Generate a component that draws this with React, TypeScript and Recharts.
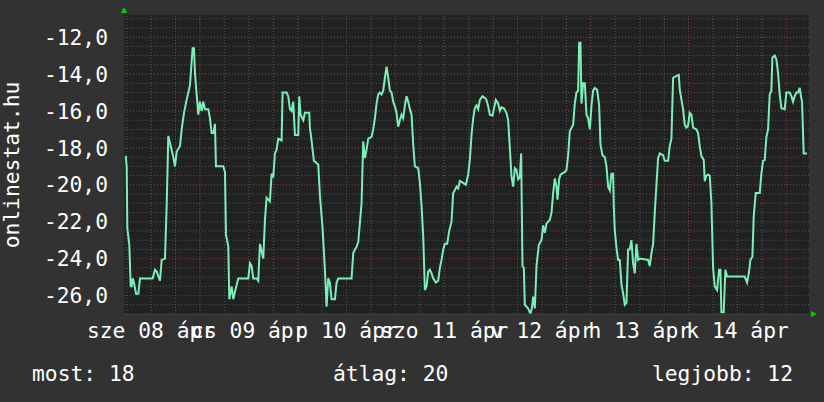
import { LineChart, Line, XAxis, YAxis, ReferenceLine, CartesianGrid } from "recharts";

// hours since Apr 8 00:00
const hours = [
  5.76, 6.01, 6.17, 6.66, 6.99, 7.23, 7.48, 7.8, 8.3, 8.87, 9.28, 12.39, 12.96, 13.37, 14.19, 14.6,
  15.41, 15.82, 16.23, 16.81, 17.46, 17.87, 18.28, 19.1, 19.51, 20.08, 20.73, 21.55, 22.2, 22.53,
  22.78, 23.19, 23.59, 24.0, 24.41, 24.82, 25.23, 26.05, 26.46, 26.87, 27.28, 27.69, 27.93, 29.73,
  30.14, 30.39, 30.96, 31.2, 31.78, 32.18, 32.59, 33.41, 35.87, 36.28, 36.69, 37.09, 37.91, 38.32,
  38.73, 39.14, 39.55, 39.96, 40.37, 41.18, 41.59, 42.0, 42.41, 42.82, 43.23, 44.05, 44.29, 45.28,
  45.68, 46.09, 46.5, 46.91, 47.32, 48.14, 48.38, 48.71, 49.37, 49.78, 50.84, 51.0, 51.41, 51.98,
  53.05, 53.46, 54.11, 54.68, 55.09, 55.5, 55.91, 56.32, 57.14, 57.55, 57.96, 61.23, 61.64, 62.46,
  62.87, 63.68, 64.09, 64.5, 64.91, 65.32, 66.14, 66.55, 66.96, 67.37, 67.77, 68.18, 68.59, 69.0,
  69.41, 69.82, 70.23, 70.64, 71.05, 71.46, 71.87, 72.27, 72.68, 73.09, 73.5, 73.91, 74.32, 74.73,
  75.14, 75.55, 75.96, 76.36, 76.77, 77.59, 78.0, 78.41, 78.82, 79.23, 79.64, 80.05, 80.46, 80.87,
  81.27, 81.93, 82.5, 82.91, 83.32, 83.73, 84.14, 84.71, 85.2, 85.77, 86.18, 86.59, 87.0, 87.41,
  87.82, 88.64, 89.29, 89.86, 90.27, 90.68, 91.09, 91.5, 91.91, 92.32, 92.73, 93.38, 93.95, 94.36,
  94.77, 95.18, 95.84, 96.16, 96.66, 97.23, 97.64, 98.05, 98.62, 99.27, 99.68, 100.09, 100.5, 100.91,
  101.32, 101.73, 102.14, 102.55, 102.87, 103.2, 103.53, 103.77, 104.59, 105.16, 105.49, 105.82,
  106.23, 106.64, 107.21, 107.86, 108.27, 108.68, 109.09, 109.5, 109.91, 110.32, 110.73, 111.14,
  111.55, 111.79, 112.2, 112.53, 113.59, 114.0, 114.41, 114.82, 115.64, 116.04, 116.45, 116.86,
  117.11, 117.44, 117.68, 118.09, 118.5, 118.91, 119.32, 119.73, 120.14, 120.54, 120.95, 121.53,
  122.02, 122.34, 122.84, 123.41, 123.82, 124.23, 124.63, 125.04, 125.45, 125.62, 125.86, 126.27,
  126.68, 127.09, 127.5, 127.91, 128.32, 128.73, 129.13, 129.54, 129.95, 130.36, 130.77, 131.18,
  131.59, 132.0, 134.04, 134.45, 134.86, 135.27, 135.68, 136.09, 136.5, 136.91, 137.73, 138.13,
  138.95, 139.36, 139.77, 140.18, 141.0, 141.57, 141.82, 142.23, 142.63, 143.04, 143.45, 143.86,
  144.27, 144.68, 145.09, 145.91, 146.32, 146.72, 147.13, 147.7, 147.95, 148.36, 148.77, 149.18,
  149.59, 150.0, 150.41, 150.98, 151.47, 151.8, 152.04, 152.61, 153.02, 153.43, 157.77, 158.34,
  158.84, 159.16, 159.65, 159.98, 160.47, 161.45, 161.86, 162.27, 162.68, 163.09, 163.5, 163.9,
  164.31, 164.56, 165.13, 165.54, 165.95, 166.36, 166.77, 167.59, 168.0, 168.82, 169.22, 169.63,
  170.04, 170.45, 170.86, 171.27, 171.51, 171.84, 172.25, 173.07
];

const temps = [
  -18.43, -19.0, -22.35, -23.26, -25.5, -25.5, -25.07, -25.3, -25.9, -25.9, -25.07, -25.07, -24.6, -24.7, -25.2, -24.07,
  -24.0, -21.2, -17.35, -17.9, -18.5, -19.0, -18.2, -17.9, -17.0, -16.1, -15.4, -14.6, -12.6, -12.6,
  -13.95, -15.1, -16.2, -15.5, -16.0, -15.5, -15.9, -15.9, -16.4, -17.2, -17.2, -16.7, -19.0, -19.0,
  -19.3, -22.7, -23.35, -26.2, -25.5, -26.2, -25.8, -25.07, -25.07, -24.25, -24.4, -25.07, -25.07, -25.2,
  -23.2, -23.6, -24.0, -21.9, -20.7, -20.9, -19.4, -19.6, -18.3, -18.1, -17.5, -17.6, -15.0, -15.0,
  -15.2, -15.9, -16.0, -15.5, -17.3, -17.3, -15.2, -16.2, -16.5, -16.1, -16.1, -16.9, -17.6, -18.7,
  -18.9, -20.6, -22.35, -24.6, -26.6, -25.07, -25.3, -26.2, -26.2, -25.3, -25.07, -25.07, -23.7, -23.35,
  -23.1, -21.0, -17.65, -18.55, -18.1, -17.5, -17.4, -17.0, -16.4, -15.6, -15.1, -15.0, -15.1, -14.9,
  -14.2, -13.6, -14.2, -14.9, -15.0, -15.5, -15.75, -16.1, -16.85, -16.5, -16.2, -16.4, -15.7, -15.2,
  -15.5, -15.9, -16.2, -17.8, -19.0, -19.1, -19.9, -21.1, -22.8, -25.7, -25.5, -24.7, -24.6, -24.8,
  -25.07, -25.3, -25.2, -24.5, -24.07, -23.5, -23.2, -23.2, -22.5, -22.0, -20.45, -20.3, -20.1, -20.2,
  -19.8, -19.9, -20.0, -19.45, -18.65, -17.3, -16.4, -15.85, -15.7, -15.9, -15.4, -15.2, -15.3, -15.4,
  -15.75, -16.2, -16.25, -15.9, -15.4, -15.6, -16.0, -15.8, -15.85, -16.1, -16.5, -18.0, -19.55, -20.1,
  -19.1, -19.2, -19.7, -19.6, -18.3, -24.4, -24.5, -26.5, -26.7, -27.0, -26.7, -26.06,
  -26.7, -24.4, -23.25, -23.0, -22.2, -22.6, -22.1, -22.0, -21.9, -21.5, -20.45, -19.65,
  -20.1, -20.8, -19.7, -19.45, -19.3, -19.2, -18.4, -17.1, -16.75, -15.6, -15.0, -14.9,
  -12.3, -12.3, -15.6, -14.5, -14.5, -16.2, -16.4, -17.0, -15.7, -14.9, -14.75, -14.85,
  -15.7, -17.8, -18.4, -18.5, -19.0, -20.1, -20.3, -19.4, -19.4, -21.2, -22.45, -23.4,
  -24.07, -24.07, -25.4, -25.9, -26.5, -26.4, -23.5, -23.5, -23.0, -24.25, -24.8, -23.2,
  -24.07, -24.0, -24.07, -24.4, -23.7, -23.2, -21.5, -20.0, -18.55, -18.3, -18.4, -18.7,
  -18.7, -17.9, -17.5, -14.2, -14.1, -14.05, -14.85, -15.4, -15.9, -16.75, -16.9, -16.8,
  -16.1, -16.2, -16.9, -17.0, -17.2, -17.9, -18.45, -18.65, -19.8, -19.5, -19.45, -19.5,
  -21.0, -24.5, -25.5, -25.7, -24.6, -24.6, -26.9, -26.9, -24.6, -24.97, -24.97, -25.3,
  -24.7, -24.07, -23.9, -21.7, -20.45, -20.45, -19.4, -18.7, -18.65, -17.4, -17.0, -15.1,
  -14.9, -13.1, -13.0, -13.2, -13.95, -15.1, -15.85, -15.9, -15.0, -15.0, -15.2, -15.5,
  -15.2, -15.0, -15.0, -14.75, -15.1, -15.5, -18.3, -18.3
];

const dayTicks = [12, 36, 60, 84, 108, 132, 156];
const dayLabels = ["sze 08 ápr", "cs 09 ápr", "p 10 ápr", "szo 11 ápr", "v 12 ápr", "h 13 ápr", "k 14 ápr"];
const midnights = [24, 48, 72, 96, 120, 144, 168];
const yTicks = [-26, -24, -22, -20, -18, -16, -14, -12];
const legend = ["most: 18", "átlag: 20", "legjobb: 12"];

const FONT = '"DejaVu Sans Mono", monospace';
const FS = 21.3;

const data = hours.map((h, i) => ({ h, t: temps[i] }));

const minorX: number[] = [];
for (let h = 6; h <= 168; h += 6) minorX.push(h);
const minorY: number[] = [];
for (let v = -26.5; v <= -11; v += 0.5) minorY.push(v);

const XTick = ({ x, y, payload }: any) => (
  <text x={x} y={y} dy={24} textAnchor="middle" fill="#ffffff" fontFamily={FONT} fontSize={FS}>
    {dayLabels[dayTicks.indexOf(payload.value)]}
  </text>
);

const YTick = ({ x, y, payload }: any) => (
  <text x={x} y={y} dy="0.36em" textAnchor="end" fill="#ffffff" fontFamily={FONT} fontSize={FS}>
    {payload.value.toFixed(1).replace(".", ",")}
  </text>
);

export default function App() {
  return (
    <div style={{ position: "relative", width: 824, height: 402, background: "#323232" }}>
      <style>{"body{margin:0;background:#323232}"}</style>
      <LineChart width={824} height={402} data={data} margin={{ top: 15, right: 15, bottom: 0, left: 0 }}>
        <CartesianGrid fill="#212121" horizontal={false} vertical={false} />
        <XAxis
          type="number"
          dataKey="h"
          domain={[5.35, 173.55]}
          ticks={dayTicks}
          interval={0}
          height={88}
          tickSize={0}
          tickMargin={0}
          tick={<XTick />}
          axisLine={{ stroke: "#3e3e3e" }}
          tickLine={false}
          allowDataOverflow
        />
        <YAxis
          type="number"
          domain={[-27, -10.8]}
          ticks={yTicks}
          interval={0}
          width={124}
          tickSize={0}
          tickMargin={16}
          tick={<YTick />}
          axisLine={{ stroke: "#2c2c2c" }}
          tickLine={false}
          allowDataOverflow
        />
        {minorY.map((v) => (
          <ReferenceLine key={"my" + v} y={v} stroke="#555555" strokeDasharray="1 2" />
        ))}
        {minorX.map((v) => (
          <ReferenceLine key={"mx" + v} x={v} stroke="#555555" strokeDasharray="1 2" />
        ))}
        {yTicks.map((v) => (
          <ReferenceLine key={"Y" + v} y={v} stroke="#7a3434" strokeDasharray="1 2" />
        ))}
        {midnights.map((v) => (
          <ReferenceLine key={"X" + v} x={v} stroke="#7a3434" strokeDasharray="1 2" />
        ))}
        <Line
          type="linear"
          dataKey="t"
          stroke="#7cefb8"
          strokeWidth={2}
          dot={false}
          isAnimationActive={false}
        />
      </LineChart>
      <svg
        width={824}
        height={402}
        style={{ position: "absolute", left: 0, top: 0, pointerEvents: "none" }}
        fontFamily={FONT}
        fontSize={FS}
        fill="#ffffff"
      >
        <polygon points="124,7 121,13 127,13" fill="#00d000" />
        <polygon points="817,314 811,311 811,317" fill="#00d000" />
        <text transform="translate(18.5,165) rotate(-90)" textAnchor="middle">
          onlinestat.hu
        </text>
        <text x={32} y={381}>{legend[0]}</text>
        <text x={333} y={381}>{legend[1]}</text>
        <text x={793} y={381} textAnchor="end">{legend[2]}</text>
      </svg>
    </div>
  );
}
